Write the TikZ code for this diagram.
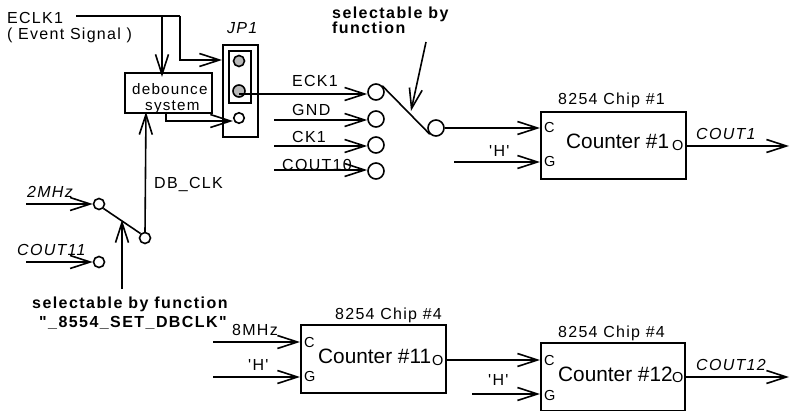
\documentclass[tikz,border=0pt]{standalone}
\usepackage{fontspec}
\setmainfont{Liberation Sans}
\usetikzlibrary{arrows.meta}
\newfontfamily\spaced[LetterSpace=8]{Liberation Sans}
\newfontfamily\spacedb[LetterSpace=9]{Liberation Sans Bold}
\newfontfamily\spacedi[LetterSpace=8]{Liberation Sans Italic}
\tikzset{
  x=1pt,y=-1pt,
  wire/.style={line width=1.6pt,black},
  arr/.style={wire,-{Straight Barb[length=20pt,width=13pt,line width=1.6pt]}},
  txt/.style={anchor=base west,inner sep=0pt,font=\spaced\fontsize{16}{18}\selectfont},
  itxt/.style={txt,font=\spacedi\fontsize{16}{18}\selectfont},
  btxt/.style={txt,font=\spacedb\fontsize{16}{18}\selectfont},
  pin/.style={txt,font=\fontsize{14.5}{16}\selectfont},
  big/.style={txt,font=\fontsize{20.8}{23}\selectfont},
  boxn/.style={draw,line width=1.6pt,anchor=north west,inner sep=0pt,fill=white},
  pad/.style={circle,draw,line width=1.6pt,inner sep=0pt,minimum size=#1,fill=white},
  pad/.default=16pt,
  gpad/.style={pad=#1,fill=black!28},
}
\begin{document}
\begin{tikzpicture}
\useasboundingbox (0,0) rectangle (794,411);
% boxes
\node[boxn,minimum width=87pt,minimum height=40pt] (deb) at (124,72) {};
\node[boxn,minimum width=35pt,minimum height=92pt] (jp) at (222,44) {};
\node[boxn,minimum width=22pt,minimum height=52pt] (jpin) at (228,50) {};
\node[boxn,minimum width=145pt,minimum height=67pt] (c1) at (540,111) {};
\node[boxn,minimum width=145pt,minimum height=68pt] (c11) at (300,324) {};
\node[boxn,minimum width=144pt,minimum height=68pt] (c12) at (540,342) {};
% pads
\node[gpad=11pt] (p1) at (239,61) {};
\node[gpad=12pt] (p2) at (239,91) {};
\node[pad=10.5pt] (p3) at (239,118) {};
\node[pad] (s1) at (376,92) {};
\node[pad] (s2) at (376,119) {};
\node[pad] (s3) at (376,145) {};
\node[pad] (s4) at (376,171) {};
\node[pad] (so) at (436,128) {};
\node[pad=11pt] (d1) at (99,204) {};
\node[pad=11pt] (d2) at (99,262) {};
\node[pad=11pt] (do) at (145,238) {};
% free ends
\coordinate (e0) at (76,16);
\coordinate (e1) at (180,16);
\coordinate (e2) at (180,60);
\coordinate (e3) at (162,16);
\coordinate (e4) at (162,77);
\coordinate (e5) at (166,112);
\coordinate (e6) at (166,121);
\coordinate (g) at (274,120);
\coordinate (ck) at (274,146);
\coordinate (co) at (274,170);
\coordinate (sa) at (426,42);
\coordinate (sb) at (411,111);
\coordinate (c1c) at (540,128);
\coordinate (h1) at (454,162);
\coordinate (c1g) at (540,162);
\coordinate (o1a) at (686,146);
\coordinate (o1b) at (789,146);
\coordinate (k2) at (26,204);
\coordinate (k11) at (26,262);
\coordinate (dbt) at (146,112);
\coordinate (da) at (122,289);
\coordinate (db) at (122,220);
\coordinate (m8) at (213,342);
\coordinate (c11c) at (300,342);
\coordinate (mh) at (213,377);
\coordinate (c11g) at (300,377);
\coordinate (o11) at (446,360);
\coordinate (c12c) at (540,360);
\coordinate (h12) at (472,394);
\coordinate (c12g) at (540,394);
\coordinate (o12a) at (685,377);
\coordinate (o12b) at (789,377);
% wires
\draw[wire] (e0) -- (e1);
\draw[arr] (e1) -- (e2) -- (jp.west |- e2);
\draw[arr] (e3) -- (e4);
\draw[arr] (e5) -- (e6) -- (p3.west |- e6);
\draw[arr] (p2.center |- 0,94) -- (s1.west |- 0,94);
\draw[arr] (g) -- (s2.west |- g);
\draw[arr] (ck) -- (s3.west |- ck);
\draw[arr] (co) -- (s4.west |- co);
\draw[wire] (s1.north east) -- (so.south west);
\draw[arr] (sa) -- (sb);
\draw[arr] (so.east) -- (c1c);
\draw[arr] (h1) -- (c1g);
\draw[arr] (o1a) -- (o1b);
\draw[arr] (k2) -- (d1.west |- k2);
\draw[arr] (k11) -- (d2.west |- k11);
\draw[wire] (d1.south east) -- (do.north west);
\draw[arr] (do.north |- 0,233) -- (dbt);
\draw[arr] (da) -- (db);
\draw[arr] (m8) -- (c11c);
\draw[arr] (mh) -- (c11g);
\draw[arr] (o11) -- (c12c);
\draw[arr] (h12) -- (c12g);
\draw[arr] (o12a) -- (o12b);
% labels
\node[txt] (t1) at (7,24) {ECLK1};
\node[txt] (t2) at (7,40) {( Event Signal )};
\node[itxt] (t3) at (227,34) {JP1};
\node[txt,font=\spaced\fontsize{15.2}{17}\selectfont] (t4) at (132,95) {debounce};
\node[txt,font=\spaced\fontsize{15.2}{17}\selectfont] (t5) at (145,111) {system};
\node[btxt] (t6) at (332,19) {selectable by};
\node[btxt] (t7) at (332,34) {function};
\node[txt] (t8) at (292,87) {ECK1};
\node[txt] (t9) at (292,116) {GND};
\node[txt] (t10) at (292,143) {CK1};
\node[txt] (t11) at (282,171) {COUT10};
\node[txt] (t12) at (558,105) {8254 Chip \#1};
\node[big] (t13) at (566,149) {Counter \#1};
\node[pin] (t14) at (544,133) {C};
\node[pin] (t15) at (544,167) {G};
\node[pin] (t16) at (672,151) {O};
\node[itxt] (t17) at (696,140) {COUT1};
\node[txt] (t18) at (489,157) {'H'};
\node[itxt] (t19) at (27,198) {2MHz};
\node[itxt] (t20) at (17,256) {COUT11};
\node[txt] (t21) at (154,189) {DB\_CLK};
\node[btxt] (t22) at (32,308) {selectable by function};
\node[btxt] (t23) at (39,327) {"\_8554\_SET\_DBCLK"};
\node[txt] (t24) at (335,319) {8254 Chip \#4};
\node[big] (t25) at (318,363) {Counter \#11};
\node[pin] (t26) at (304,347) {C};
\node[pin] (t27) at (304,381) {G};
\node[pin] (t28) at (432,365) {O};
\node[txt] (t29) at (232,335) {8MHz};
\node[txt] (t30) at (248,370) {'H'};
\node[txt] (t31) at (558,337) {8254 Chip \#4};
\node[big] (t32) at (558,381) {Counter \#12};
\node[pin] (t33) at (544,365) {C};
\node[pin] (t34) at (544,400) {G};
\node[pin] (t35) at (672,382) {O};
\node[itxt] (t36) at (696,370) {COUT12};
\node[txt] (t37) at (488,385) {'H'};
\end{tikzpicture}
\end{document}
